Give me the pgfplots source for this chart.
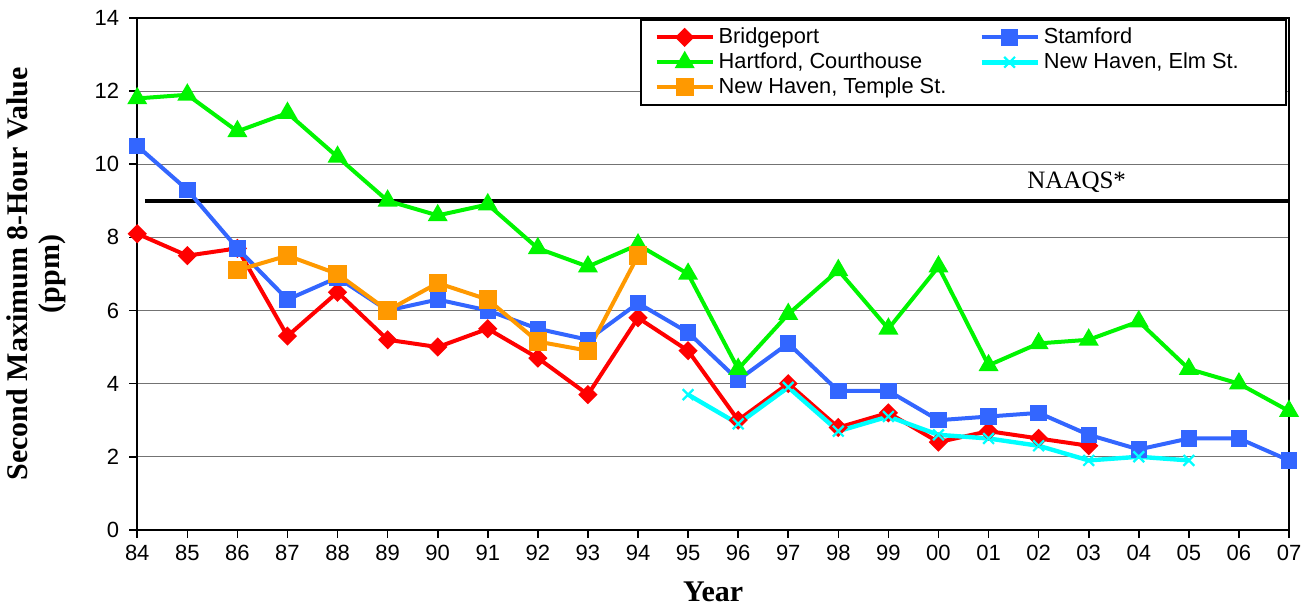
\documentclass[border=0pt]{standalone}
\usepackage{fontspec}
\setmainfont{Liberation Serif}
\newfontfamily\arial{Liberation Sans}
\usepackage{pgfplots}
\pgfplotsset{compat=1.18}
\definecolor{cRed}{RGB}{255,0,0}
\definecolor{cBlue}{RGB}{51,102,255}
\definecolor{cGreen}{RGB}{0,245,0}
\definecolor{cCyan}{RGB}{0,255,255}
\definecolor{cOrange}{RGB}{255,153,0}
\begin{document}
\begin{tikzpicture}
\begin{axis}[
  scale only axis, width=576bp, height=256bp,
  xmin=0, xmax=23, ymin=0, ymax=14,
  clip=false,
  xtick={0,...,23},
  xticklabels={84,85,86,87,88,89,90,91,92,93,94,95,96,97,98,99,00,01,02,03,04,05,06,07},
  ytick={0,2,...,14},
  ymajorgrids,
  grid style={draw=black!55, line width=0.6bp},
  axis line style={black, line width=1bp},
  tick align=outside, xtick pos=bottom, ytick pos=left,
  major tick length=4bp,
  tick style={black, line width=0.8bp},
  ticklabel style={font=\arial\fontsize{11bp}{13bp}\selectfont},
  yticklabel style={xshift=-1.5bp},
  /pgf/number format/assume math mode=true,
  xlabel={Year},
  ylabel={Second Maximum 8-Hour Value\\(ppm)},
  label style={font=\bfseries\fontsize{15bp}{16bp}\selectfont},
  ylabel style={align=center, at={(axis description cs:-0.0877,0.5)}, anchor=center},
  xlabel style={at={(axis description cs:0.5,-0.121)}, anchor=center},
  legend columns=2,
  legend cell align=left,
  legend style={at={(rel axis cs:0.998,0.998)}, anchor=north east,
    draw=black, line width=1bp, fill=white,
    font=\arial\fontsize{10.9bp}{12.5bp}\selectfont,
    inner xsep=7bp, inner ysep=2bp,
    row sep=-0.9bp,
    /tikz/every even column/.append style={column sep=14.5bp}},
  legend image code/.code={\draw[mark repeat=2,mark phase=2] plot coordinates {(0bp,0bp) (14bp,0bp) (28bp,0bp)};},
]
\addplot[black, line width=2bp, forget plot] coordinates {(0.15,9) (23,9)};
\node[font=\fontsize{12.5bp}{14bp}\selectfont] at (axis cs:18.76,9.5) {NAAQS*};

\addplot[cRed, line width=2bp, mark=square*, mark size=2.4bp, mark options={rotate=45, solid}] coordinates {
(0,8.1) (1,7.5) (2,7.7) (3,5.3) (4,6.5) (5,5.2) (6,5.0) (7,5.5) (8,4.7) (9,3.7)
(10,5.8) (11,4.9) (12,3.0) (13,4.0) (14,2.8) (15,3.2) (16,2.4) (17,2.7) (18,2.5) (19,2.3)};
\addlegendentry{Bridgeport}

\addplot[cBlue, line width=2bp, mark=square*, mark size=3.1bp] coordinates {
(0,10.5) (1,9.3) (2,7.7) (3,6.3) (4,6.9) (5,6.0) (6,6.3) (7,6.0) (8,5.5) (9,5.2)
(10,6.2) (11,5.4) (12,4.1) (13,5.1) (14,3.8) (15,3.8) (16,3.0) (17,3.1) (18,3.2) (19,2.6)
(20,2.2) (21,2.5) (22,2.5) (23,1.9)};
\addlegendentry{Stamford}

\addplot[cGreen, line width=2bp, mark=triangle*, mark size=3.8bp] coordinates {
(0,11.8) (1,11.9) (2,10.9) (3,11.4) (4,10.2) (5,9.0) (6,8.6) (7,8.9) (8,7.7) (9,7.2)
(10,7.8) (11,7.0) (12,4.4) (13,5.9) (14,7.1) (15,5.5) (16,7.2) (17,4.5) (18,5.1) (19,5.2)
(20,5.7) (21,4.4) (22,4.0) (23,3.25)};
\addlegendentry{Hartford, Courthouse}

\addplot[cCyan, line width=2.2bp, mark=x, mark size=3.8bp, mark options={line width=1.1bp}] coordinates {
(11,3.7) (12,2.9) (13,3.9) (14,2.7) (15,3.1) (16,2.6) (17,2.5) (18,2.3) (19,1.9) (20,2.0) (21,1.9)};
\addlegendentry{\makebox[112bp][l]{New Haven, Elm St.}}

\addplot[cOrange, line width=2bp, mark=square*, mark size=3.6bp] coordinates {
(2,7.1) (3,7.5) (4,7.0) (5,6.0) (6,6.75) (7,6.3) (8,5.15) (9,4.9) (10,7.5)};
\addlegendentry{New Haven, Temple St.}

\coordinate (bl) at (rel axis cs:0,0);
\coordinate (tr) at (rel axis cs:1,1);
\end{axis}
\path (bl) ++(-68.5bp,-38.5bp);
\path (tr) ++(10bp,9bp);
\end{tikzpicture}
\end{document}
